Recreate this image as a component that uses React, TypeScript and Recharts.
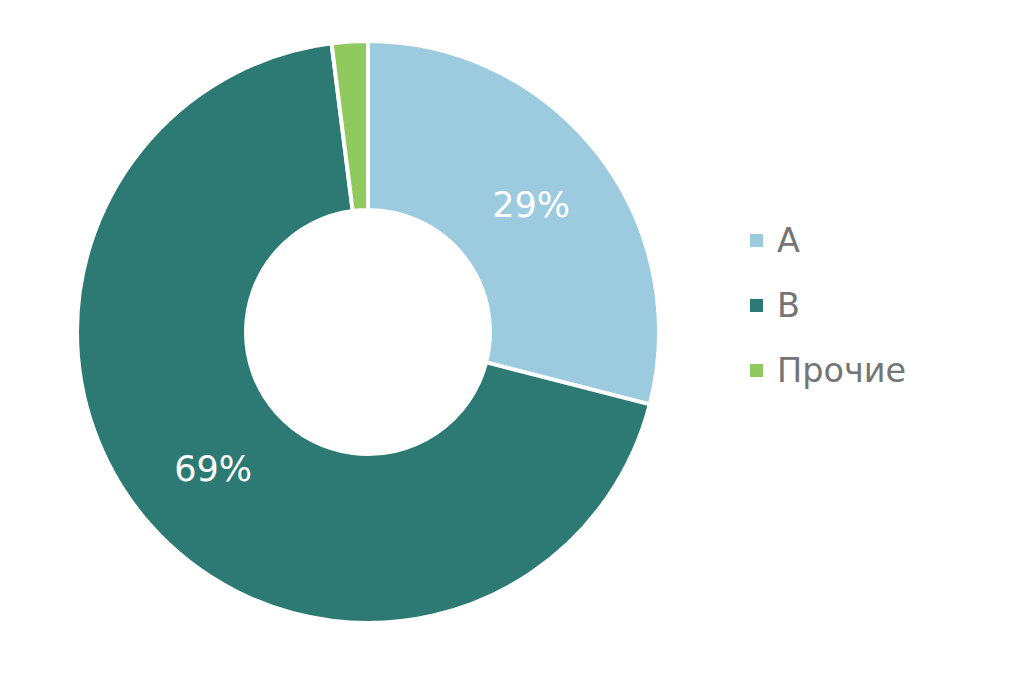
import { PieChart, Pie, Cell, Legend } from "recharts";

const categories = ["A", "B", "Прочие"];
const shares = [29, 69, 2];
const colors = ["#9ccbe0", "#2c7a73", "#90c95e"];

const data = categories.map((name, i) => ({ name, value: shares[i] }));

const RADIAN = Math.PI / 180;

const renderLabel = ({ cx, cy, midAngle, innerRadius, outerRadius, value }: any) => {
  if (value < 5) return null;
  const r = (innerRadius + outerRadius) / 2;
  const x = cx + r * Math.cos(-midAngle * RADIAN);
  const y = cy + r * Math.sin(-midAngle * RADIAN);
  return (
    <text
      x={x}
      y={y}
      fill="#ffffff"
      textAnchor="middle"
      dominantBaseline="central"
      fontSize={35}
      fontFamily="DejaVu Sans"
    >
      {value}%
    </text>
  );
};

const CustomLegend = () => (
  <div style={{ fontFamily: "DejaVu Sans" }}>
    {data.map((d, i) => (
      <div
        key={d.name}
        style={{ display: "flex", alignItems: "center", height: 65 }}
      >
        <span
          style={{
            width: 13,
            height: 13,
            background: colors[i],
            marginRight: 14,
            display: "inline-block",
          }}
        ></span>
        <span style={{ fontSize: 33.5, color: "#757575" }}>{d.name}</span>
      </div>
    ))}
  </div>
);

export default function App() {
  return (
    <div style={{ position: "absolute", left: 0, top: 0, background: "#fff" }}>
      <PieChart
        width={1024}
        height={683}
        margin={{ top: 0, right: 0, bottom: 0, left: 0 }}
      >
        <Pie
          data={data}
          dataKey="value"
          cx={368}
          cy={332}
          innerRadius={122}
          outerRadius={291}
          startAngle={90}
          endAngle={-270}
          stroke="#ffffff"
          strokeWidth={4}
          labelLine={false}
          label={renderLabel}
          isAnimationActive={false}
        >
          {data.map((d, i) => (
            <Cell key={d.name} fill={colors[i]} />
          ))}
        </Pie>
        <Legend
          content={<CustomLegend />}
          wrapperStyle={{ left: 750, top: 208, width: 250 }}
        />
      </PieChart>
    </div>
  );
}
